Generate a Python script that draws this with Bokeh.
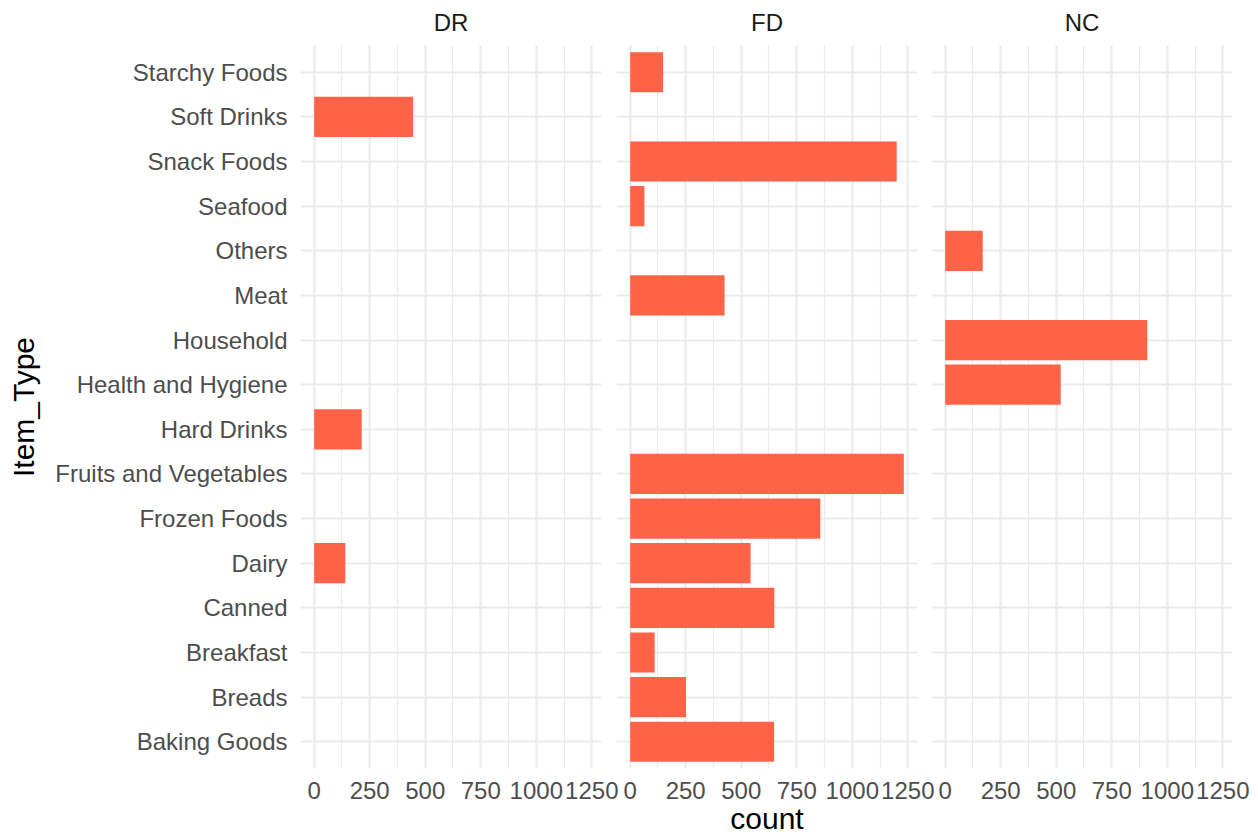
from bokeh.plotting import figure
from bokeh.models import FactorRange, Range1d, FixedTicker, Grid, CategoricalTicker
from bokeh.layouts import row
from bokeh.embed import file_html
from bokeh.resources import INLINE

# ---- data ----
item_types = ["Baking Goods", "Breads", "Breakfast", "Canned", "Dairy", "Frozen Foods",
              "Fruits and Vegetables", "Hard Drinks", "Health and Hygiene", "Household",
              "Meat", "Others", "Seafood", "Snack Foods", "Soft Drinks", "Starchy Foods"]
panel_names = ["DR", "FD", "NC"]
dr_types = ["Dairy", "Hard Drinks", "Soft Drinks"]
dr_counts = [140, 214, 445]
fd_types = ["Baking Goods", "Breads", "Breakfast", "Canned", "Dairy", "Frozen Foods",
            "Fruits and Vegetables", "Meat", "Seafood", "Snack Foods", "Starchy Foods"]
fd_counts = [648, 251, 110, 649, 542, 856, 1232, 425, 64, 1200, 148]
nc_types = ["Health and Hygiene", "Household", "Others"]
nc_counts = [520, 910, 169]
x_ticks = [0, 250, 500, 750, 1000, 1250]
x_minor_ticks = [125, 375, 625, 875, 1125]

# ---- styling ----
FONT = "Liberation Sans"
BAR = "#FF6347"
GRID = "#EBEBEB"
TICK_SIZE = "24px"
TITLE_SIZE = "30px"
H = 837

maxc = max(dr_counts + fd_counts + nc_counts)
x_start, x_end = -0.05 * maxc, 1.05 * maxc
yr = FactorRange(factors=item_types, range_padding=0.1, range_padding_units="absolute")

panel_data = [(dr_types, dr_counts), (fd_types, fd_counts), (nc_types, nc_counts)]
layout_specs = [  # width, border_left, border_right, margin_left
    (625, 300, 24, 0),
    (331, 7, 23, -16),
    (328, 7, 20, -16),
]

figs = []
for i, (name, (types, counts), (w, bl, br, ml)) in enumerate(zip(panel_names, panel_data, layout_specs)):
    p = figure(width=w, height=H, x_range=Range1d(x_start, x_end), y_range=yr,
               output_backend="svg", toolbar_location=None,
               min_border_left=bl, min_border_right=br, min_border_top=45, min_border_bottom=69,
               y_axis_location="left" if i == 0 else None, title=name)
    p.outline_line_color = None
    if i > 0:
        p.border_fill_color = None
        p.margin = (0, 0, 0, ml)

    p.hbar(y=types, left=0, right=counts, height=0.9, fill_color=BAR, line_color=None)

    # title (facet strip)
    p.title.align = "center"
    p.title.vertical_align = "top"
    p.title.text_font = FONT
    p.title.text_font_size = TICK_SIZE
    p.title.text_font_style = "normal"
    p.title.text_color = "#1A1A1A"
    p.title.standoff = 15

    # x axis
    xa = p.xaxis[0]
    xa.ticker = FixedTicker(ticks=x_ticks, minor_ticks=x_minor_ticks)
    xa.axis_line_color = None
    xa.major_tick_line_color = None
    xa.minor_tick_line_color = None
    xa.major_tick_out = 0
    xa.major_label_standoff = 9
    xa.major_label_text_font = FONT
    xa.major_label_text_font_size = TICK_SIZE
    xa.major_label_text_color = "#4D4D4D"
    if i == 1:
        xa.axis_label = "count"
        xa.axis_label_standoff = 0
        xa.axis_label_text_font = FONT
        xa.axis_label_text_font_size = TITLE_SIZE
        xa.axis_label_text_font_style = "normal"
        xa.axis_label_text_color = "#000000"

    p.xgrid.grid_line_color = GRID
    p.xgrid.grid_line_width = 2.2
    p.xgrid.minor_grid_line_color = GRID
    p.xgrid.minor_grid_line_width = 1.2

    if len(p.ygrid) == 0:
        p.add_layout(Grid(dimension=1, ticker=CategoricalTicker()))
    p.ygrid.grid_line_color = GRID
    p.ygrid.grid_line_width = 2.2

    if i == 0:
        ya = p.yaxis[0]
        ya.axis_line_color = None
        ya.major_tick_line_color = None
        ya.minor_tick_line_color = None
        ya.major_tick_out = 0
        ya.major_label_standoff = 13
        ya.major_label_text_font = FONT
        ya.major_label_text_font_size = TICK_SIZE
        ya.major_label_text_color = "#4D4D4D"
        ya.axis_label = "Item_Type"
        ya.axis_label_standoff = 12
        ya.axis_label_text_font = FONT
        ya.axis_label_text_font_size = TITLE_SIZE
        ya.axis_label_text_font_style = "normal"
        ya.axis_label_text_color = "#000000"
    figs.append(p)

layout = row(*figs)
open("out.html", "w").write(file_html(layout, INLINE))
